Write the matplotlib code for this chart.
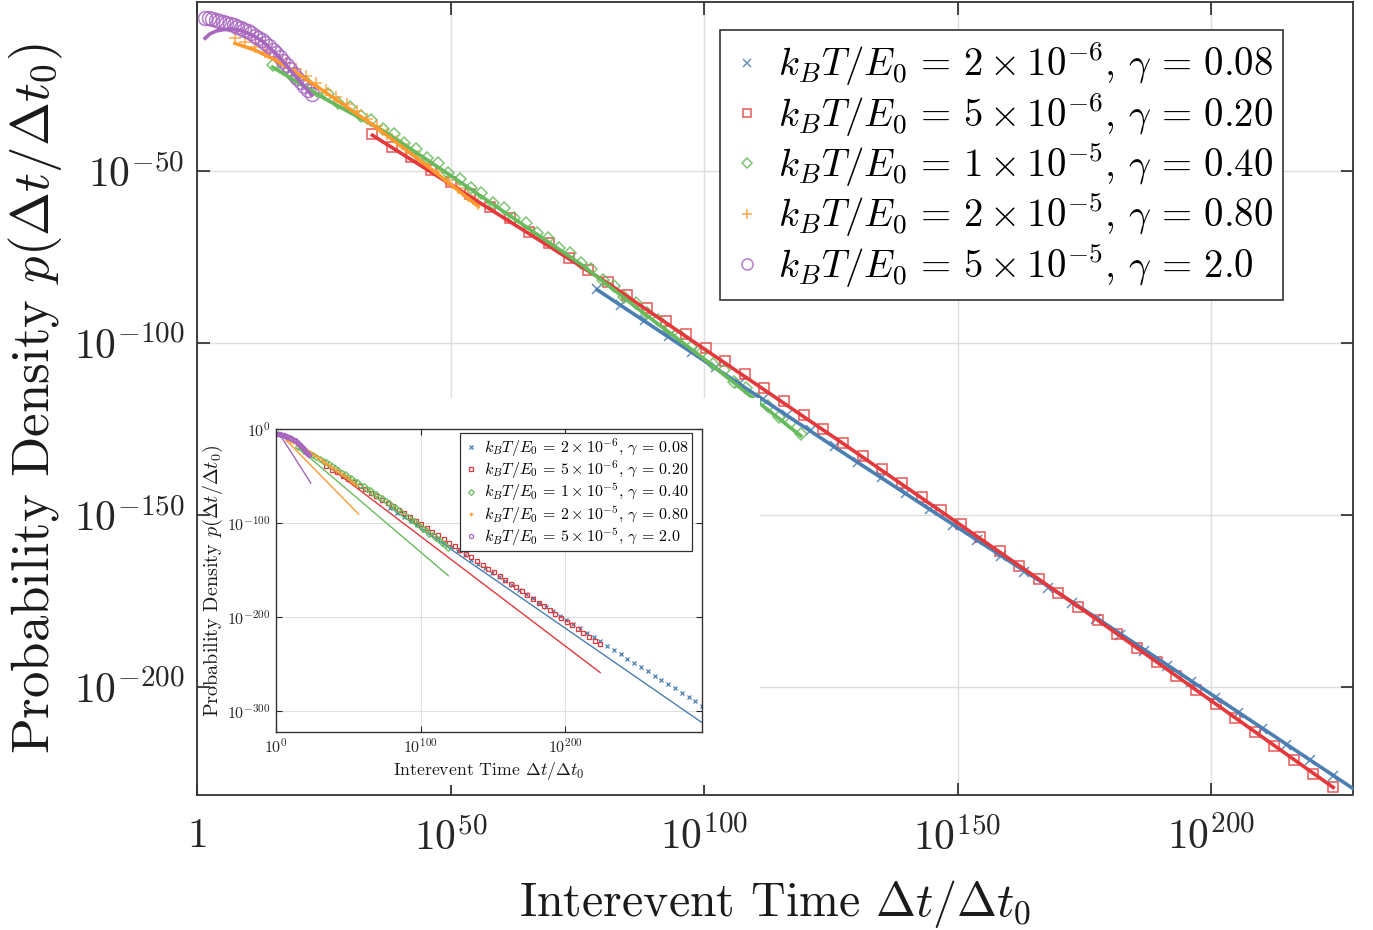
import matplotlib
matplotlib.use('Agg')
import matplotlib.pyplot as plt
import numpy as np
from matplotlib.patches import Rectangle

plt.rcParams['font.family'] = 'serif'
plt.rcParams['font.serif'] = ['cmr10']
plt.rcParams['mathtext.fontset'] = 'cm'
plt.rcParams['axes.formatter.use_mathtext'] = True

# all values are log10 exponents
blue_logx = [78.9, 83.6, 88.3, 93.0, 97.6, 102.3, 107.0, 111.7, 116.4, 121.1, 125.8, 130.4,
             135.1, 139.8, 144.5, 149.2, 153.9, 158.5, 163.2, 167.9, 172.6, 177.3, 182.0, 186.7,
             191.3, 196.0, 200.7, 205.4, 210.1, 214.8, 219.5, 224.1, 228.8, 233.5, 238.2, 242.9,
             247.6, 252.3, 256.9, 261.6, 266.3, 271.0, 275.7, 280.4, 285.1, 289.7, 294.4]
blue_logy = [-84.3, -88.9, -93.4, -98.0, -102.6, -107.1, -111.7, -116.3, -120.8, -125.4, -130.0, -134.5,
             -139.1, -143.7, -148.3, -152.8, -157.4, -162.0, -166.5, -171.1, -175.7, -180.2, -184.8, -189.4,
             -193.9, -198.5, -203.1, -207.6, -212.2, -216.8, -221.3, -225.9, -230.5, -235.0, -239.6, -244.2,
             -248.7, -253.3, -257.9, -262.4, -267.0, -271.6, -276.1, -280.7, -285.3, -289.8, -294.4]

red_logx = [34.6, 38.5, 42.3, 46.2, 50.1, 53.9, 57.8, 61.7, 65.5, 69.4, 73.3, 77.1, 81.0, 84.9,
            88.7, 92.6, 96.5, 100.3, 104.2, 108.1, 111.9, 115.8, 119.7, 123.5, 127.4, 131.3, 135.1,
            139.0, 142.9, 146.7, 150.6, 154.5, 158.3, 162.2, 166.1, 169.9, 173.8, 177.7, 181.5, 185.4,
            189.3, 193.1, 197.0, 200.9, 204.7, 208.6, 212.5, 216.3, 220.2, 224.1]
red_logy = [-39.2, -43.1, -45.8, -49.7, -53.1, -56.8, -60.4, -63.8, -67.6, -71.0, -75.4, -78.8, -82.4, -86.1,
            -89.9, -93.7, -97.5, -101.4, -105.2, -109.1, -113.0, -116.9, -120.9, -124.9, -129.0, -132.8, -136.7,
            -140.6, -144.8, -148.5, -152.6, -156.5, -160.6, -164.7, -168.6, -172.7, -176.7, -180.4, -184.7, -188.7,
            -192.8, -196.7, -200.8, -204.9, -209.0, -213.0, -217.2, -221.2, -225.2, -229.0]

green_logx = [14.9, 17.1, 19.2, 21.4, 23.6, 25.8, 27.9, 30.1, 32.3, 34.4, 36.6, 38.8, 40.9, 43.1, 45.3,
              47.5, 49.6, 51.8, 54.0, 56.1, 58.3, 60.5, 62.6, 64.8, 67.0, 69.2, 71.3, 73.5, 75.7, 77.8,
              80.0, 82.2, 84.3, 86.5, 88.7, 90.9, 93.0, 95.2, 97.4, 99.5, 101.7, 103.9, 106.0, 108.2,
              110.4, 112.6, 114.7, 116.9, 119.1]
green_logy = [-19.2, -20.3, -22.9, -24.0, -26.6, -27.7, -30.3, -31.4, -34.0, -35.1, -37.7, -39.1, -42.0,
              -43.5, -46.3, -47.8, -50.7, -52.2, -55.0, -56.5, -59.4, -60.9, -63.7, -65.2, -68.1, -69.6,
              -72.4, -73.9, -76.8, -78.5, -81.7, -83.4, -86.5, -88.3, -91.4, -93.2, -96.3, -98.1, -101.2,
              -102.9, -106.1, -107.9, -111.2, -113.1, -116.3, -118.2, -121.4, -123.3, -126.5]

orange_logx = [7.5, 9.5, 11.5, 13.5, 15.5, 17.5, 19.5, 21.5, 23.5, 25.5, 27.5, 29.5, 31.5, 33.5,
               35.5, 37.5, 39.5, 41.5, 43.5, 45.5, 47.5, 49.5, 51.5, 53.5, 55.5]
orange_logy = [-11.4, -12.6, -13.9, -15.3, -16.9, -18.6, -20.4, -22.3, -24.3, -26.4, -28.5, -30.6, -32.7,
               -34.8, -36.9, -39.1, -41.3, -43.5, -45.7, -48.0, -50.3, -52.6, -54.9, -57.2, -59.6]

purple_logx = [1.6, 2.3, 3.0, 3.7, 4.4, 5.1, 5.8, 6.5, 7.2, 7.9, 8.6, 9.3, 10.0, 10.7, 11.4, 12.1,
               12.8, 13.5, 14.2, 14.9, 15.6, 16.3, 17.0, 17.7, 18.4, 19.1, 19.8, 20.5, 21.2, 21.9, 22.6]
purple_logy = [-5.4, -5.6, -5.8, -6.0, -6.3, -6.6, -6.9, -7.3, -7.7, -8.1, -8.5, -8.9, -9.4, -10.0,
               -10.7, -11.3, -11.9, -12.8, -13.8, -14.8, -15.8, -16.8, -17.9, -19.1, -20.4, -21.7,
               -22.9, -24.2, -25.2, -26.4, -27.7]

# fitted curves shown in the main panel
blue_fit_logx = [78.9, 130.4, 177.3, 224.1, 228.6]
blue_fit_logy = [-84.5, -134.8, -179.8, -225.7, -230.1]
red_fit_logx = [34.6, 81.0, 127.4, 177.7, 224.1]
red_fit_logy = [-39.6, -82.6, -129.2, -180.6, -229.2]
green_fit_logx = [14.9, 25.0, 37.1, 50.0, 63.0, 76.1, 88.0, 100.0, 110.0, 119.1]
green_fit_logy = [-19.8, -28.8, -38.6, -51.3, -64.3, -77.5, -91.2, -104.6, -116.4, -127.0]
orange_fit_logx = [7.5, 11.5, 15.4, 20.0, 27.0, 35.1, 46.0, 55.5]
orange_fit_logy = [-12.9, -14.9, -17.7, -21.8, -28.8, -37.0, -49.2, -60.3]
purple_fit_logx = [1.6, 2.6, 3.8, 5.2, 7.0, 9.0, 11.0, 12.8, 16.0, 19.3, 22.6]
purple_fit_logy = [-11.4, -10.1, -9.3, -8.9, -8.7, -9.3, -10.6, -12.1, -16.5, -22.2, -27.9]

# straight lines shown in the inset
blue_th_logx, blue_th_logy = [81.4, 294.4], [-86.0, -312.4]
red_th_logx, red_th_logy = [36.3, 224.0], [-39.9, -259.1]
green_th_logx, green_th_logy = [15.5, 119.1], [-20.3, -156.1]
orange_th_logx, orange_th_logy = [7.4, 57.1], [-12.5, -90.6]
purple_th_logx, purple_th_logy = [1.6, 24.1], [-3.4, -57.6]

labels = [r'$k_BT/E_0\,=\,2\times10^{-6}$, $\gamma\,=\,0.08$',
          r'$k_BT/E_0\,=\,5\times10^{-6}$, $\gamma\,=\,0.20$',
          r'$k_BT/E_0\,=\,1\times10^{-5}$, $\gamma\,=\,0.40$',
          r'$k_BT/E_0\,=\,2\times10^{-5}$, $\gamma\,=\,0.80$',
          r'$k_BT/E_0\,=\,5\times10^{-5}$, $\gamma\,=\,2.0$']
colors = ['#4b7fb3', '#e5383b', '#68bb5c', '#ff9a2e', '#a766bf']
markers = ['x', 's', 'D', '+', 'o']
msizes = [7, 7, 6.5, 9, 10]

pts = [(blue_logx, blue_logy), (red_logx, red_logy), (green_logx, green_logy),
       (orange_logx, orange_logy), (purple_logx, purple_logy)]
fits = [(blue_fit_logx, blue_fit_logy), (red_fit_logx, red_fit_logy), (green_fit_logx, green_fit_logy),
        (orange_fit_logx, orange_fit_logy), (purple_fit_logx, purple_fit_logy)]
ths = [(blue_th_logx, blue_th_logy), (red_th_logx, red_th_logy), (green_th_logx, green_th_logy),
       (orange_th_logx, orange_th_logy), (purple_th_logx, purple_th_logy)]

W, H = 1373, 930
fig = plt.figure(figsize=(W / 100, H / 100), dpi=100)
ax = fig.add_axes([197 / W, 1 - 795 / H, (1353 - 197) / W, (795 - 2) / H])
ax.set_xscale('log')
ax.set_yscale('log')

for (px, py), (fx, fy), c, m, ms, lab in zip(pts, fits, colors, markers, msizes, labels):
    ax.plot(10.0 ** np.array(px), 10.0 ** np.array(py), linestyle='none', marker=m, ms=ms,
            mfc='none', mec=c, mew=1.1, alpha=0.85, label=lab, zorder=3)
    ax.plot(10.0 ** np.array(fx), 10.0 ** np.array(fy), color=c, lw=2.6, zorder=4)

ax.set_xlim(1, 10.0 ** 228)
ax.set_ylim(10.0 ** -231.4, 10.0 ** -0.87)
ax.set_xticks([1, 1e50, 1e100, 1e150, 1e200])
ax.set_xticklabels(['$1$', '$10^{50}$', '$10^{100}$', '$10^{150}$', '$10^{200}$'])
ax.set_yticks([1e-200, 1e-150, 1e-100, 1e-50])
ax.set_yticklabels(['$10^{-200}$', '$10^{-150}$', '$10^{-100}$', '$10^{-50}$'])
ax.minorticks_off()
ax.tick_params(direction='in', top=True, right=True, length=9, width=1.2,
               labelsize=30, colors='#262626')
ax.tick_params(axis='x', pad=16)
ax.tick_params(axis='y', pad=9)
ax.grid(True, color='#dedede', lw=1.0)
for s in ax.spines.values():
    s.set_color('#333333')
    s.set_linewidth(1.3)
ax.set_xlabel(r'Interevent Time $\Delta t/\Delta t_0$', fontsize=34.5, color='#1a1a1a', labelpad=14)
ax.set_ylabel(r'Probability Density $p(\Delta t/\Delta t_0)$', fontsize=38, color='#1a1a1a', labelpad=6)

leg = ax.legend(loc='upper right', bbox_to_anchor=(1283 / W, 1 - 30 / H), bbox_transform=fig.transFigure,
                fontsize=28, frameon=True, fancybox=False, framealpha=1, edgecolor='#333333',
                borderaxespad=0, handletextpad=0.35, labelspacing=0.05, handlelength=0.9,
                borderpad=0.25, markerscale=0.8)
leg.get_frame().set_linewidth(1.2)

# white backing behind the inset
fig.add_artist(Rectangle((211 / W, 1 - 785 / H), (760 - 211) / W, (785 - 398) / H,
                         transform=fig.transFigure, facecolor='white', edgecolor='none', zorder=1))

ins = fig.add_axes([276 / W, 1 - 732 / H, (702 - 276) / W, (732 - 429) / H], zorder=2)
ins.set_xscale('log')
ins.set_yscale('log')
for (px, py), (tx, ty), c, m, lab in zip(pts, ths, colors, markers, labels):
    ins.plot(10.0 ** np.array(px), 10.0 ** np.array(py), linestyle='none', marker=m, ms=3.0,
             mfc='none', mec=c, mew=0.9, label=lab)
    ins.plot(10.0 ** np.array(tx), 10.0 ** np.array(ty), color=c, lw=1.0)
ins.set_xlim(1, 10.0 ** 294.4)
ins.set_ylim(10.0 ** -322.4, 1)
ins.set_xticks([1, 1e100, 1e200])
ins.set_xticklabels(['$10^{0}$', '$10^{100}$', '$10^{200}$'])
ins.set_yticks([1e-300, 1e-200, 1e-100, 1])
ins.set_yticklabels(['$10^{-300}$', '$10^{-200}$', '$10^{-100}$', '$10^{0}$'])
ins.minorticks_off()
ins.tick_params(direction='in', top=True, right=True, length=4, width=0.8,
                labelsize=11.5, colors='#262626', pad=4)
ins.grid(True, color='#e0e0e0', lw=0.8)
for s in ins.spines.values():
    s.set_color('#333333')
    s.set_linewidth(1.0)
ins.set_xlabel(r'Interevent Time $\Delta t/\Delta t_0$', fontsize=12.8, color='#1a1a1a', labelpad=3)
ins.set_ylabel(r'Probability Density $p(\Delta t/\Delta t_0)$', fontsize=14.5, color='#1a1a1a', labelpad=1)
ileg = ins.legend(loc='upper right', bbox_to_anchor=(692 / W, 1 - 433 / H), bbox_transform=fig.transFigure,
                  fontsize=11.5, frameon=True, fancybox=False, framealpha=1, edgecolor='#333333',
                  borderaxespad=0, handletextpad=0.3, labelspacing=0.02, handlelength=1.0,
                  borderpad=0.2, markerscale=1.0)
ileg.get_frame().set_linewidth(0.9)

fig.savefig('out.png', dpi=100)
